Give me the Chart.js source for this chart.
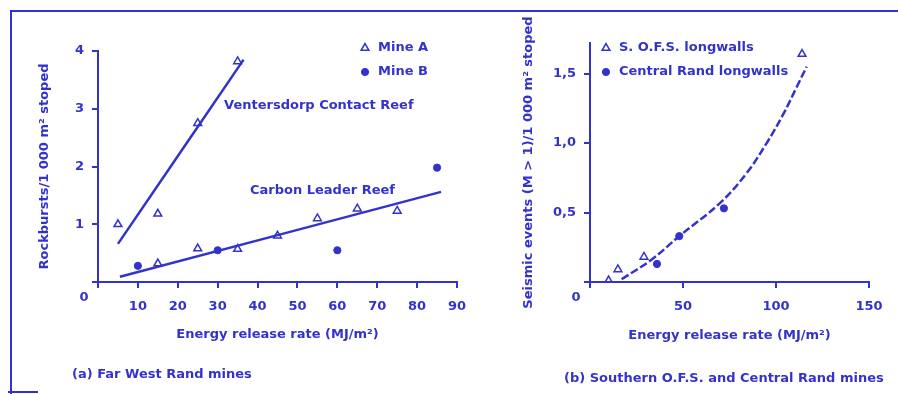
<!DOCTYPE html>
<html>
<head>
<meta charset="utf-8">
<script src="https://cdn.jsdelivr.net/npm/chart.js@4.4.0/dist/chart.umd.min.js"></script>
<style>
  html, body { margin: 0; padding: 0; background: #fff; }
  #wrap { position: relative; width: 898px; height: 394px; overflow: hidden; }
  #chartA { position: absolute; left: 0; top: 0; }
  #chartB { position: absolute; left: 480px; top: 0; }
  .frame { position: absolute; left: 10px; top: 10px; width: 890px; height: 382px;
           border-top: 2px solid #3333cc; border-left: 2px solid #3333cc; }
  .foot { position: absolute; left: 8px; top: 391px; width: 30px; height: 2px; background: #3333cc; }
  .caption { position: absolute; font: bold 13px 'DejaVu Sans'; line-height: 16px;
             color: #3333cc; white-space: nowrap; }
</style>
</head>
<body>
<div id="wrap">
  <div class="frame"></div>
  <div class="foot"></div>
  <canvas id="chartA" width="480" height="394"></canvas>
  <canvas id="chartB" width="418" height="394"></canvas>
  <div class="caption" style="left:72px; top:366px;">(a) Far West Rand mines</div>
  <div class="caption" style="left:564px; top:370px;">(b) Southern O.F.S. and Central Rand mines</div>
</div>
<script>
// (a) Far West Rand mines - energy release rate vs rockbursts
var mineA_x = [5, 15, 25, 35, 15, 25, 35, 45, 55, 65, 75];
var mineA_y = [1.0, 1.18, 2.75, 3.82, 0.32, 0.58, 0.57, 0.8, 1.1, 1.27, 1.23];
var mineB_x = [10, 30, 60, 85];
var mineB_y = [0.28, 0.55, 0.55, 1.98];
var vcrFit_x = [5, 36.5];
var vcrFit_y = [0.66, 3.85];
var clrFit_x = [5.5, 86];
var clrFit_y = [0.09, 1.56];

// (b) Southern O.F.S. and Central Rand mines
var ofs_x = [10, 15, 29, 114];
var ofs_y = [0.01, 0.09, 0.18, 1.64];
var crand_x = [36, 48, 72];
var crand_y = [0.13, 0.33, 0.53];
var curve_x = [17, 33, 48, 70, 84, 95, 104, 111, 116.5];
var curve_y = [0.02, 0.16, 0.33, 0.57, 0.78, 1.0, 1.21, 1.4, 1.55];

var blue = '#3333cc';
Chart.defaults.font.family = "'DejaVu Sans', sans-serif";
Chart.defaults.font.weight = 'bold';
Chart.defaults.font.size = 13;
Chart.defaults.color = blue;

function xy(xs, ys) {
    return xs.map(function (x, i) { return { x: x, y: ys[i] }; });
}

// text labels, the corner "0" and the in-plot legend
var decor = {
    id: 'decor',
    afterDatasetsDraw: function (chart, args, opts) {
        var ctx = chart.ctx, area = chart.chartArea;
        var sx = chart.scales.x, sy = chart.scales.y;
        ctx.save();
        ctx.fillStyle = blue;
        ctx.font = "bold 13px 'DejaVu Sans'";
        ctx.textBaseline = 'middle';
        ctx.textAlign = 'left';
        (opts.labels || []).forEach(function (l) {
            ctx.fillText(l.text, sx.getPixelForValue(l.x), sy.getPixelForValue(l.y));
        });
        ctx.textAlign = 'center';
        ctx.fillText('0', area.left - 14, area.bottom + 16);
        var lg = opts.legend;
        if (lg) {
            lg.items.forEach(function (idx, i) {
                var ds = chart.data.datasets[idx];
                var y = lg.y + i * lg.dy;
                ctx.fillStyle = ds.backgroundColor;
                ctx.strokeStyle = ds.borderColor;
                ctx.lineWidth = ds.borderWidth;
                Chart.helpers.drawPoint(ctx, {
                    pointStyle: ds.pointStyle, radius: ds.pointRadius,
                    borderWidth: ds.borderWidth, rotation: 0
                }, lg.x, y);
                ctx.fillStyle = blue;
                ctx.textAlign = 'left';
                ctx.fillText(ds.label, lg.x + lg.textDx, y);
            });
        }
        ctx.restore();
    }
};

function axis(min, max, step, fmt, fit, title, titlePad, tickPad) {
    return {
        type: 'linear', min: min, max: max,
        border: { display: true, color: blue, width: 2 },
        grid: { drawOnChartArea: false, drawTicks: true, tickLength: 6, color: blue, lineWidth: 2 },
        ticks: {
            stepSize: step, includeBounds: false, padding: tickPad, color: blue,
            callback: function (v) { return v === 0 ? '' : fmt(v); }
        },
        title: { display: true, text: title, color: blue, padding: titlePad,
                 font: { size: 13, weight: 'bold' } },
        afterFit: fit
    };
}

function fitW(w) { return function (s) { s.width = w; }; }
function fitH(h) { return function (s) { s.height = h; }; }

function pts(label, xs, ys, style) {
    var tri = style === 'triangle';
    return {
        type: 'scatter', label: label, data: xy(xs, ys),
        pointStyle: style, pointRadius: tri ? 4.5 : 3.6,
        borderColor: blue, backgroundColor: tri ? 'rgba(0,0,0,0)' : blue,
        borderWidth: tri ? 1.5 : 1
    };
}

function fitLine(xs, ys, dash) {
    return {
        type: 'line', label: 'fit', data: xy(xs, ys),
        borderColor: blue, borderWidth: 2.5, pointRadius: 0,
        borderDash: dash || [], tension: 0.4, fill: false
    };
}

new Chart(document.getElementById('chartA').getContext('2d'), {
    type: 'scatter',
    data: {
        datasets: [
            pts('Mine A', mineA_x, mineA_y, 'triangle'),
            pts('Mine B', mineB_x, mineB_y, 'circle'),
            fitLine(vcrFit_x, vcrFit_y),
            fitLine(clrFit_x, clrFit_y)
        ]
    },
    options: {
        responsive: false, animation: false,
        layout: { padding: { left: 0, top: 51, right: 23, bottom: 0 } },
        plugins: {
            legend: { display: false }, tooltip: { enabled: false },
            decor: {
                labels: [
                    { text: 'Ventersdorp Contact Reef', x: 31.6, y: 3.06 },
                    { text: 'Carbon Leader Reef', x: 38.1, y: 1.58 }
                ],
                legend: { items: [0, 1], x: 365, y: 48, dy: 24, textDx: 13 }
            }
        },
        scales: {
            x: axis(0, 90, 10, function (v) { return String(v); }, fitH(112),
                    'Energy release rate (MJ/m²)', { top: 0, bottom: 52 }, 11),
            y: axis(0, 4, 1, function (v) { return String(v); }, fitW(98),
                    'Rockbursts/1 000 m² stoped', { top: 37, bottom: 0 }, 8)
        }
    },
    plugins: [decor]
});

new Chart(document.getElementById('chartB').getContext('2d'), {
    type: 'scatter',
    data: {
        datasets: [
            pts('S. O.F.S. longwalls', ofs_x, ofs_y, 'triangle'),
            pts('Central Rand longwalls', crand_x, crand_y, 'circle'),
            fitLine(curve_x, curve_y, [8, 3])
        ]
    },
    options: {
        responsive: false, animation: false,
        layout: { padding: { left: 0, top: 43, right: 29, bottom: 0 } },
        plugins: {
            legend: { display: false }, tooltip: { enabled: false },
            decor: {
                legend: { items: [0, 1], x: 126, y: 48, dy: 24, textDx: 13 }
            }
        },
        scales: {
            x: axis(0, 150, 50, function (v) { return String(v); }, fitH(112),
                    'Energy release rate (MJ/m²)', { top: 0, bottom: 51 }, 11),
            y: axis(0, 1.72, 0.5, function (v) { return v.toFixed(1).replace('.', ','); }, fitW(110),
                    'Seismic events (M > 1)/1 000 m² stoped', { top: 41, bottom: 0 }, 8)
        }
    },
    plugins: [decor]
});
</script>
</body>
</html>
